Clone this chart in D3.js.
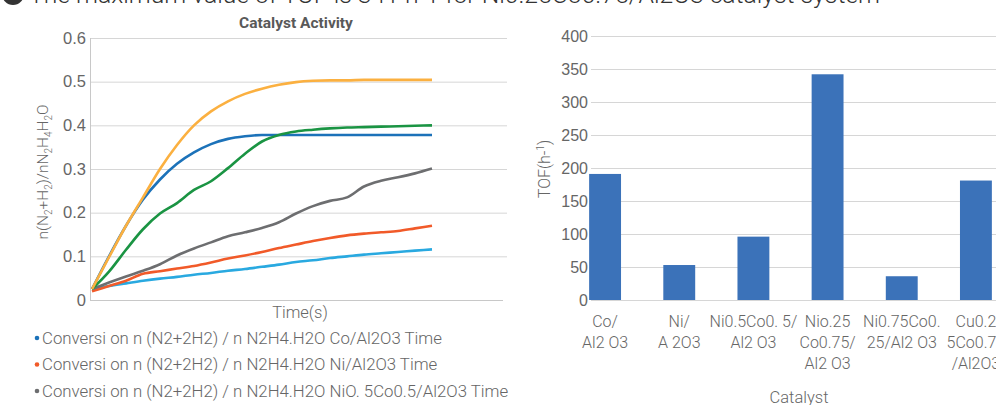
<!DOCTYPE html>
<html>
<head>
<meta charset="utf-8">
<script src="https://cdn.jsdelivr.net/npm/d3@7"></script>
<style>
  body { margin: 0; background: #fff; }
  svg { font-family: Roboto, "Noto Sans", sans-serif; font-weight: 300; }
  .grid line { stroke: #d6d6d6; }
  .tick text { fill: #666; }
</style>
</head>
<body>
<div id="chart"></div>
<script>
// ---- line chart data (Catalyst Activity) ----
const timeSteps = d3.range(0, 21);
const coAl2O3 = [0.025, 0.10, 0.17, 0.23, 0.276, 0.312, 0.338, 0.357, 0.369, 0.375, 0.378, 0.378, 0.378, 0.378, 0.378, 0.378, 0.378, 0.378, 0.378, 0.378, 0.378];
const niAl2O3 = [0.02, 0.032, 0.044, 0.06, 0.066, 0.072, 0.078, 0.086, 0.095, 0.102, 0.11, 0.119, 0.127, 0.135, 0.142, 0.148, 0.152, 0.155, 0.158, 0.164, 0.17];
const ni05co05 = [0.025, 0.04, 0.054, 0.067, 0.082, 0.102, 0.118, 0.132, 0.146, 0.155, 0.165, 0.178, 0.198, 0.215, 0.227, 0.235, 0.26, 0.273, 0.281, 0.29, 0.301];
const ni025co075 = [0.025, 0.098, 0.17, 0.235, 0.30, 0.355, 0.40, 0.432, 0.455, 0.472, 0.484, 0.493, 0.499, 0.502, 0.503, 0.503, 0.504, 0.504, 0.504, 0.504, 0.504];
const ni075co025 = [0.025, 0.065, 0.115, 0.162, 0.198, 0.222, 0.252, 0.272, 0.302, 0.335, 0.363, 0.378, 0.386, 0.39, 0.393, 0.395, 0.396, 0.397, 0.398, 0.399, 0.40];
const lowSeries = [0.025, 0.032, 0.038, 0.044, 0.049, 0.053, 0.058, 0.062, 0.067, 0.071, 0.076, 0.081, 0.087, 0.091, 0.096, 0.10, 0.104, 0.107, 0.11, 0.113, 0.116];
const activityTicks = [0, 0.1, 0.2, 0.3, 0.4, 0.5, 0.6];
const legendNames = [
  "Conversi on n (N2+2H2) / n N2H4.H2O Co/Al2O3 Time",
  "Conversi on n (N2+2H2) / n N2H4.H2O Ni/Al2O3 Time",
  "Conversi on n (N2+2H2) / n N2H4.H2O NiO. 5Co0.5/Al2O3 Time"
];

// ---- bar chart data (TOF) ----
const catalysts = [
  ["Co/", "Al2 O3"],
  ["Ni/", "A 2O3"],
  ["Ni0.5Co0. 5/", "Al2 O3"],
  ["Nio.25", "Co0.75/", "Al2 O3"],
  ["Ni0.75Co0.", "25/Al2 O3"],
  ["Cu0.2", "5Co0.75", "/Al2O3"]
];
const tofValues = [191, 53, 96, 342, 36, 181];
const tofTicks = [0, 50, 100, 150, 200, 250, 300, 350, 400];

const W = 996, H = 405;
const textGray = "#666";

const svg = d3.select("#chart").append("svg")
  .attr("width", W).attr("height", H);

// heading cut off at top of the picture
const head = svg.append("g");
head.append("circle").attr("cx", 13).attr("cy", -6).attr("r", 11).attr("fill", "#333");
head.append("text").attr("x", 13).attr("y", -2).attr("text-anchor", "middle")
  .attr("fill", "#fff").attr("font-size", 14).attr("font-weight", 700).text("3");
head.append("text")
  .attr("x", 29).attr("y", 3)
  .attr("font-size", 24)
  .attr("textLength", 851).attr("lengthAdjust", "spacingAndGlyphs")
  .attr("fill", "#333")
  .text("The maximum value of TOF is 341 h-1 for Ni0.25Co0.75/Al2O3 catalyst system");

// -----------------------------
// LEFT: LINE CHART
// -----------------------------
const lm = { left: 90, top: 38, right: 507, bottom: 300 };

const x = d3.scaleLinear().domain([0, 20]).range([lm.left + 2, lm.left + 342]);
const y = d3.scaleLinear().domain([0, 0.6]).range([lm.bottom, lm.top]);

const left = svg.append("g");

left.append("g").attr("class", "grid")
  .selectAll("line").data(activityTicks.filter(d => d > 0)).join("line")
  .attr("x1", lm.left).attr("x2", lm.right)
  .attr("y1", d => y(d) + 0.5).attr("y2", d => y(d) + 0.5);

left.append("line")
  .attr("x1", lm.left).attr("x2", lm.right - 4)
  .attr("y1", lm.bottom + 0.5).attr("y2", lm.bottom + 0.5)
  .attr("stroke", "#c8c8c8");
left.append("line")
  .attr("x1", lm.left + 0.5).attr("x2", lm.left + 0.5)
  .attr("y1", lm.top).attr("y2", lm.bottom)
  .attr("stroke", "#c8c8c8");

const yAxisL = left.append("g")
  .attr("transform", `translate(${lm.left - 4},0)`)
  .call(d3.axisLeft(y).tickValues(activityTicks).tickSize(0).tickPadding(0)
    .tickFormat(d => d === 0 ? "0" : d3.format(".1f")(d)));
yAxisL.select(".domain").remove();
yAxisL.selectAll("text").attr("font-size", 16.5).attr("fill", textGray);

svg.append("text")
  .attr("x", 296).attr("y", 28)
  .attr("text-anchor", "middle")
  .attr("font-size", 15.5).attr("font-weight", 700)
  .attr("fill", "#595959")
  .text("Catalyst Activity");

const yl = svg.append("text")
  .attr("transform", "translate(48,172) rotate(-90)")
  .attr("text-anchor", "middle")
  .attr("font-size", 15.5).attr("fill", textGray);
yl.append("tspan").text("n(N");
yl.append("tspan").attr("font-size", 10).attr("dy", 4).text("2");
yl.append("tspan").attr("dy", -4).text("+H");
yl.append("tspan").attr("font-size", 10).attr("dy", 4).text("2");
yl.append("tspan").attr("dy", -4).text(")/nN");
yl.append("tspan").attr("font-size", 10).attr("dy", 4).text("2");
yl.append("tspan").attr("dy", -4).text("H");
yl.append("tspan").attr("font-size", 10).attr("dy", 4).text("4");
yl.append("tspan").attr("dy", -4).text("H");
yl.append("tspan").attr("font-size", 10).attr("dy", 4).text("2");
yl.append("tspan").attr("dy", -4).text("O");

svg.append("text")
  .attr("x", 300).attr("y", 318)
  .attr("text-anchor", "middle")
  .attr("font-size", 16.5).attr("fill", textGray)
  .text("Time(s)");

const lines = [
  { values: lowSeries, color: "#29a9e0" },
  { values: niAl2O3, color: "#f15a29" },
  { values: ni05co05, color: "#6d6e70" },
  { values: coAl2O3, color: "#1c72b9" },
  { values: ni075co025, color: "#1a9443" },
  { values: ni025co075, color: "#fbb040" }
];

const line = d3.line()
  .x((d, i) => x(timeSteps[i]))
  .y(d => y(d))
  .curve(d3.curveMonotoneX);

left.selectAll(".series").data(lines).join("path")
  .attr("class", "series")
  .attr("fill", "none")
  .attr("stroke", d => d.color)
  .attr("stroke-width", 2.6)
  .attr("d", d => line(d.values));

// legend
const legendColors = ["#1c72b9", "#f15a29", "#6d6e70"];
const lg = svg.append("g").selectAll("g").data(legendNames).join("g")
  .attr("transform", (d, i) => `translate(37,${338 + i * 26.5})`);
lg.append("circle").attr("r", 2.3).attr("cy", 0).attr("fill", (d, i) => legendColors[i]);
lg.append("text").attr("x", 5).attr("dy", "0.35em")
  .attr("font-size", 16.8).attr("fill", textGray)
  .text(d => d);

// -----------------------------
// RIGHT: BAR CHART
// -----------------------------
const rm = { left: 591, top: 36, bottom: 300 };

const xb = d3.scaleBand().domain(catalysts.map((d, i) => i))
  .range([568, 1013]).paddingInner(0.57).paddingOuter(0.285);
const yb = d3.scaleLinear().domain([0, 400]).range([rm.bottom, rm.top]);

const right = svg.append("g");

right.append("g").attr("class", "grid")
  .selectAll("line").data(tofTicks).join("line")
  .attr("x1", rm.left).attr("x2", W)
  .attr("y1", d => yb(d) + 0.5).attr("y2", d => yb(d) + 0.5)
  .attr("stroke", d => d === 0 ? "#c8c8c8" : null);

const yAxisR = right.append("g")
  .attr("transform", `translate(${rm.left - 3},0)`)
  .call(d3.axisLeft(yb).tickValues(tofTicks).tickSize(0).tickPadding(0));
yAxisR.select(".domain").remove();
yAxisR.selectAll("text").attr("font-size", 16).attr("fill", textGray);

right.selectAll(".bar").data(tofValues).join("rect")
  .attr("class", "bar")
  .attr("x", (d, i) => xb(i))
  .attr("width", xb.bandwidth())
  .attr("y", d => yb(d))
  .attr("height", d => yb(0) - yb(d))
  .attr("fill", "#3b72b9");

const xl = right.append("g").selectAll("text").data(catalysts).join("text")
  .attr("text-anchor", "middle")
  .attr("font-size", 16).attr("fill", textGray)
  .attr("transform", (d, i) => `translate(${xb(i) + xb.bandwidth() / 2},327)`);
xl.selectAll("tspan").data(d => d).join("tspan")
  .attr("x", 0).attr("dy", (d, i) => i === 0 ? 0 : 21)
  .text(d => d);

const tl = svg.append("text")
  .attr("transform", "translate(550,169) rotate(-90)")
  .attr("text-anchor", "middle")
  .attr("font-size", 16).attr("fill", textGray);
tl.append("tspan").text("TOF(h-");
tl.append("tspan").attr("font-size", 10).attr("dy", -6).text("1");
tl.append("tspan").attr("dy", 6).text(")");

svg.append("text")
  .attr("x", 799).attr("y", 403)
  .attr("text-anchor", "middle")
  .attr("font-size", 16.5).attr("fill", textGray)
  .text("Catalyst");
</script>
</body>
</html>
